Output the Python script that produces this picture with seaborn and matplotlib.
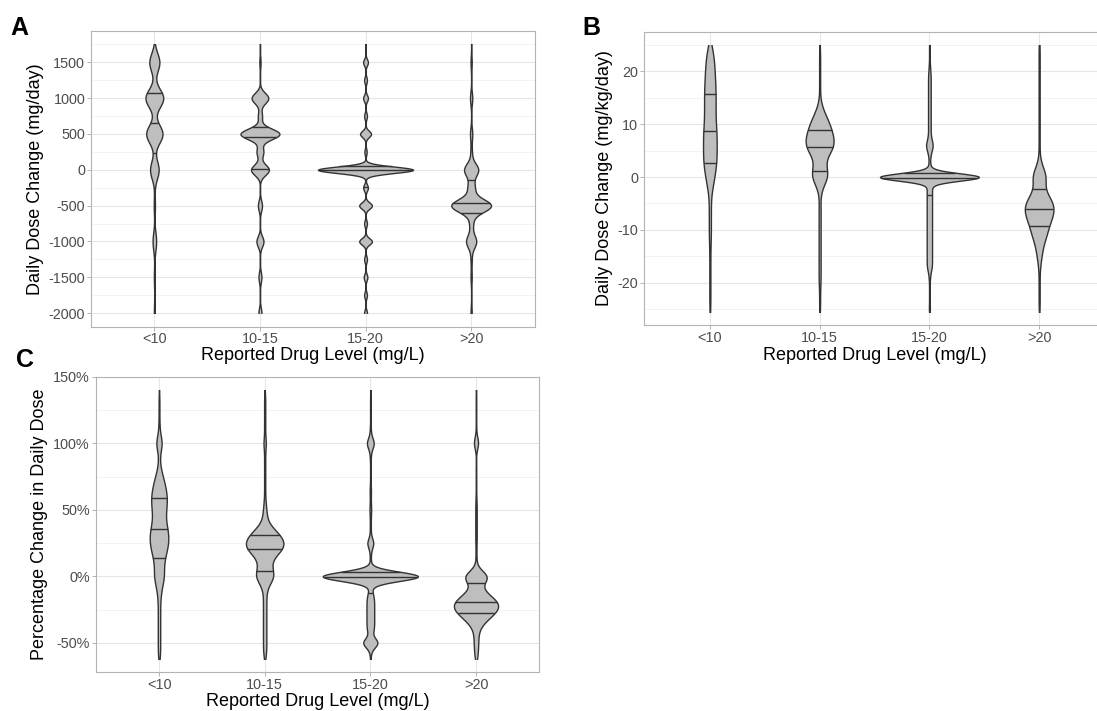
import numpy as np
import pandas as pd
import matplotlib
matplotlib.use("Agg")
import matplotlib.pyplot as plt
from matplotlib.patches import Rectangle
from matplotlib.ticker import FixedLocator, FuncFormatter
import seaborn as sns

# ---------------------------------------------------------------- data
CATEGORIES = ["<10", "10-15", "15-20", ">20"]

# Panel A: daily dose change (mg/day) -> value levels and patient counts
A_LT10_VALUES = [-2000, -1500, -1000, -500, 0, 500, 1000, 1500]
A_LT10_COUNTS = [3, 3, 12, 4, 29, 55, 60, 34]
A_10_15_VALUES = [-2000, -1500, -1000, -500, 0, 250, 500, 750, 1000, 1500]
A_10_15_COUNTS = [10, 10, 24, 14, 61, 23, 133, 14, 57, 4]
A_15_20_VALUES = [-2000, -1750, -1500, -1250, -1000, -750, -500, -250, 0,
                  250, 500, 750, 1000, 1250, 1500]
A_15_20_COUNTS = [10, 10, 13, 10, 45, 10, 45, 17, 339, 8, 39, 10, 17, 10, 17]
A_GT20_VALUES = [-2000, -1500, -1250, -1000, -750, -500, -250, 0, 250, 500, 1000, 1500]
A_GT20_COUNTS = [4, 4, 4, 36, 12, 141, 24, 50, 5, 8, 8, 4]
A_BANDWIDTH = [128, 74, 45, 90]
A_LIMITS = (-2000, 1750)
A_TICKS = [-2000, -1500, -1000, -500, 0, 500, 1000, 1500]
A_MINOR = [-1750, -1250, -750, -250, 250, 750, 1250, 1750]

# Panel B: daily dose change (mg/kg/day), values -25 .. 25
B_VALUES = list(range(-25, 26))
B_LT10_COUNTS = [1, 1, 1, 1, 1, 1, 1, 1, 1, 1, 1, 1, 1,
                 2, 2, 2, 2, 2, 2, 2, 2,
                 2, 3, 5, 7, 9, 10, 12,
                 13, 13, 13, 13, 13, 13, 13,
                 11, 11, 11, 11, 11, 11,
                 11, 11, 10, 10, 9, 9, 8, 7, 6, 3]
B_10_15_COUNTS = [1, 1, 1, 1, 1,
                  2, 2, 2, 2, 2, 2, 2, 2, 2, 2, 2, 2, 2, 2, 2, 2,
                  1, 3, 5, 12, 18, 17, 13, 11, 16, 25, 30, 30, 27, 24, 21, 16, 11, 6, 3,
                  1, 1, 1, 1, 1, 1, 1, 1, 1, 1, 0]
B_15_20_COUNTS = [2, 1, 1, 1, 1, 1, 2, 4,
                  8, 8, 8, 8, 8, 8, 8, 8, 8, 8, 8, 8, 8, 8,
                  8, 8, 6, 254,
                  8, 3, 2, 3, 7, 12, 7, 4,
                  4, 4, 4, 4, 4, 4, 4, 4, 4, 4, 4,
                  3, 2, 1, 1, 1, 1]
B_GT20_COUNTS = [1, 1, 1, 1, 1, 1, 1, 1,
                 2, 3, 5, 6, 8, 11, 15, 17, 20, 24, 28, 30, 28, 22, 14, 10, 12, 15, 12, 6, 3,
                 1, 1, 1, 1, 1, 1, 1, 1, 1, 1, 1, 1, 1, 1, 1, 1, 1, 1, 1, 1, 1, 1]
B_BANDWIDTH = [1.5, 1.2, 0.7, 1.2]
B_LIMITS = (-25.5, 25)
B_TICKS = [-20, -10, 0, 10, 20]
B_MINOR = [-25, -15, -5, 5, 15, 25]

# Panel C: percentage change in daily dose, values -60 .. 140 step 5
C_VALUES = list(range(-60, 141, 5))
C_LT10_COUNTS = [3, 3, 3, 3, 3, 3, 3, 3, 3, 4, 6, 10, 14, 12, 12, 16, 20, 24, 24, 22, 18,
                 16, 18, 20, 20, 18, 14, 10, 5, 2, 2, 3, 12, 3, 2, 1, 1, 1, 1, 1, 0]
C_10_15_COUNTS = [2, 3, 3, 3, 3, 3, 3, 3, 3, 3, 4, 10, 18, 14, 12, 18, 32, 36, 30, 18, 7,
                  4, 3, 2, 1, 1, 1, 1, 1, 1, 1, 1, 3, 1, 1, 1, 1, 1, 1, 1, 0]
C_15_20_COUNTS = [2, 3, 45, 4, 15, 15, 15, 15, 15, 14, 5, 4, 320, 4, 2, 2, 3, 18, 2, 2, 2,
                  2, 4, 2, 2, 3, 1, 1, 1, 1, 2, 4, 20, 4, 2, 1, 1, 1, 1, 1, 0]
C_GT20_COUNTS = [4, 4, 5, 5, 6, 16, 33, 50, 52, 33, 13, 10, 42, 2, 1, 1, 1, 1, 2, 1, 2,
                 1, 2, 1, 1, 0, 1, 0, 1, 0, 0, 0, 9, 1, 0, 1, 0, 1, 0, 1, 0]
C_BANDWIDTH = [5, 4, 3.5, 4.5]
C_LIMITS = (-62, 140)
C_TICKS = [-50, 0, 50, 100, 150]
C_MINOR = [-25, 25, 75, 125]

# ---------------------------------------------------------------- style
FILL = "#BEBEBE"
EDGE = "#333333"
BORDER = "#B3B3B3"
GRID_MAJOR = "#E6E6E6"
GRID_MINOR = "#F3F3F3"
TICK_TEXT = "#4D4D4D"
OUTLINE_LW = 1.0

plt.rcParams["font.family"] = ["Liberation Sans", "DejaVu Sans"]
plt.rcParams["axes.unicode_minus"] = False

W, H = 1097, 711
fig = plt.figure(figsize=(W / 100, H / 100), dpi=100)
fig.patch.set_facecolor("white")


def px_axes(x0, y0, x1, y1):
    return fig.add_axes([x0 / W, 1 - y1 / H, (x1 - x0) / W, (y1 - y0) / H])


def draw_panel(ax, groups, bandwidths, limits, ticks, minor, fmt):
    frames, bw_by_size = [], {}
    for cat, (vals, cnts), bw in zip(CATEGORIES, groups, bandwidths):
        v = np.repeat(np.asarray(vals, float), cnts)
        bw_by_size[v.size] = bw
        frames.append(pd.DataFrame({"level": cat, "value": v}))
    df = pd.concat(frames, ignore_index=True)

    def rule(kde):
        d = np.asarray(kde.dataset).ravel()
        return bw_by_size[d.size] / d.std(ddof=1)

    sns.violinplot(data=df, x="level", y="value", order=CATEGORIES, ax=ax,
                   color=FILL, saturation=1, linecolor=EDGE, linewidth=OUTLINE_LW,
                   inner=None, density_norm="area", width=0.9, cut=12,
                   gridsize=2000, bw_method=rule)

    lo, hi = limits
    for coll in list(ax.collections):
        coll.set_clip_path(Rectangle((-1, lo), 6, hi - lo, transform=ax.transData))
        verts = np.concatenate([p.vertices for p in coll.get_paths()])
        pos = 0.5 * (verts[:, 0].min() + verts[:, 0].max())
        y = verts[:, 1]
        hw = np.abs(verts[:, 0] - pos)
        y, idx = np.unique(y, return_index=True)
        hw = hw[idx]
        keep = (y >= lo) & (y <= hi)
        y, hw = y[keep], hw[keep]
        cum = np.concatenate([[0.0], np.cumsum(0.5 * (hw[1:] + hw[:-1]) * np.diff(y))])
        for q in (0.25, 0.5, 0.75):
            yq = np.interp(q * cum[-1], cum, y)
            w = np.interp(yq, y, hw)
            ax.plot([pos - w, pos + w], [yq, yq], color=EDGE, lw=OUTLINE_LW,
                    solid_capstyle="butt", zorder=3)

    pad = 0.05 * (hi - lo)
    ax.set_ylim(lo - pad, hi + pad)
    ax.set_xlim(-0.6, 3.6)
    ax.set_xticks(range(len(CATEGORIES)))
    ax.set_xticklabels(CATEGORIES)
    ax.yaxis.set_major_locator(FixedLocator(ticks))
    ax.yaxis.set_minor_locator(FixedLocator(minor))
    ax.yaxis.set_major_formatter(FuncFormatter(fmt))
    ax.set_facecolor("white")
    ax.grid(which="major", axis="both", color=GRID_MAJOR, lw=0.8)
    ax.grid(which="minor", axis="y", color=GRID_MINOR, lw=0.7)
    ax.set_axisbelow(True)
    ax.tick_params(which="minor", length=0)
    ax.tick_params(which="major", length=2.6, width=0.7, color=BORDER,
                   labelcolor=TICK_TEXT, labelsize=10.4, pad=1.6)
    for s in ax.spines.values():
        s.set_color(BORDER)
        s.set_linewidth(0.8)
    ax.set_xlabel("")
    ax.set_ylabel("")


TITLE_SIZE = 13
LABEL_SIZE = 18

# Panel A
axA = px_axes(91, 31, 534.5, 326.5)
draw_panel(axA,
           [(A_LT10_VALUES, A_LT10_COUNTS), (A_10_15_VALUES, A_10_15_COUNTS),
            (A_15_20_VALUES, A_15_20_COUNTS), (A_GT20_VALUES, A_GT20_COUNTS)],
           A_BANDWIDTH, A_LIMITS, A_TICKS, A_MINOR, lambda v, p: f"{v:.0f}")
fig.text(312.75 / W, 1 - 355 / H, "Reported Drug Level (mg/L)", ha="center", va="center",
         fontsize=TITLE_SIZE)
fig.text(35.7 / W, 1 - 178.75 / H, "Daily Dose Change (mg/day)", ha="center", va="center",
         rotation=90, fontsize=TITLE_SIZE)
fig.text(10 / W, 1 - 35 / H, "A", ha="left", va="baseline", fontsize=LABEL_SIZE,
         fontweight="bold")

# Panel B
axB = px_axes(644, 31.7, 1105, 325)
draw_panel(axB,
           [(B_VALUES, B_LT10_COUNTS), (B_VALUES, B_10_15_COUNTS),
            (B_VALUES, B_15_20_COUNTS), (B_VALUES, B_GT20_COUNTS)],
           B_BANDWIDTH, B_LIMITS, B_TICKS, B_MINOR, lambda v, p: f"{v:.0f}")
fig.text(874.5 / W, 1 - 355 / H, "Reported Drug Level (mg/L)", ha="center", va="center",
         fontsize=TITLE_SIZE)
fig.text(604.5 / W, 1 - 178.4 / H, "Daily Dose Change (mg/kg/day)", ha="center", va="center",
         rotation=90, fontsize=TITLE_SIZE)
fig.text(582 / W, 1 - 35 / H, "B", ha="left", va="baseline", fontsize=LABEL_SIZE,
         fontweight="bold")

# Panel C
axC = px_axes(95.6, 376.6, 539.4, 672.3)
draw_panel(axC,
           [(C_VALUES, C_LT10_COUNTS), (C_VALUES, C_10_15_COUNTS),
            (C_VALUES, C_15_20_COUNTS), (C_VALUES, C_GT20_COUNTS)],
           C_BANDWIDTH, C_LIMITS, C_TICKS, C_MINOR, lambda v, p: f"{v:.0f}%")
fig.text(317.5 / W, 1 - 701.5 / H, "Reported Drug Level (mg/L)", ha="center", va="center",
         fontsize=TITLE_SIZE)
fig.text(39.3 / W, 1 - 524.5 / H, "Percentage Change in Daily Dose", ha="center", va="center",
         rotation=90, fontsize=TITLE_SIZE)
fig.text(16 / W, 1 - 367 / H, "C", ha="left", va="baseline", fontsize=LABEL_SIZE,
         fontweight="bold")

fig.savefig("out.png", dpi=100, facecolor="white")
